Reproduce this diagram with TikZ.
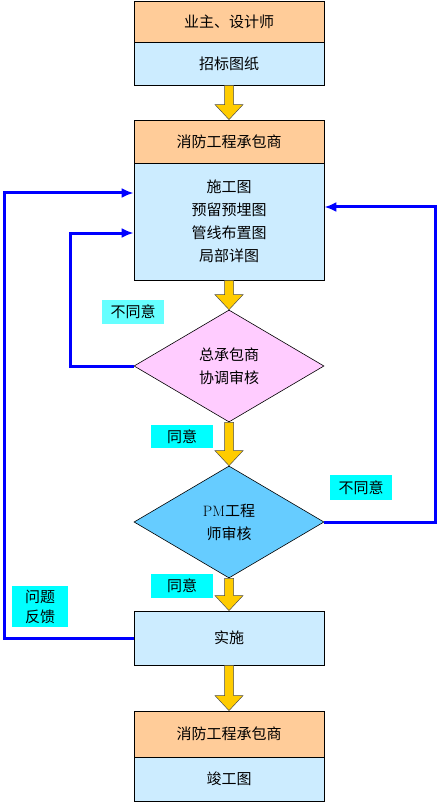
\documentclass[tikz,border=0pt]{standalone}
\usepackage{fontspec}
\newfontfamily\cjk{Noto Sans CJK SC}
\usetikzlibrary{shapes.geometric,calc,arrows.meta}
\definecolor{hdr}{HTML}{FFCC99}
\definecolor{bdy}{HTML}{CCECFF}
\definecolor{dpink}{HTML}{FFCCFF}
\definecolor{dblue}{HTML}{66CCFF}
\definecolor{lcyan}{HTML}{66FFFF}
\definecolor{cyanl}{HTML}{00FFFF}
\definecolor{yarr}{HTML}{FFCC00}
\definecolor{fblue}{HTML}{0000FF}
\tikzset{
  box/.style={draw=black, line width=0.8pt, minimum width=190pt, inner sep=0pt, align=center, font=\fontsize{15}{23}\selectfont\cjk},
  hbox/.style={box, fill=hdr},
  bbox/.style={box, fill=bdy},
  dia/.style={draw=black, line width=0.6pt, shape=diamond, minimum width=190pt, minimum height=112pt, inner sep=0pt, align=center, font=\fontsize{15}{23}\selectfont\cjk},
  lab/.style={inner sep=0pt, minimum width=62pt, align=center, font=\fontsize{15}{20}\selectfont\cjk},
  yblk/.style={fill=yarr, draw=black!70, line width=0.5pt},
  fb/.style={draw=fblue, line width=3pt, -{Latex[length=12pt,width=10pt]}}
}
\newcommand{\blockarrow}[2]{%
  \draw[yblk] ($(#1.south)+(-4.5,0)$) -- ($(#2.north)+(-4.5,-15)$) -- ($(#2.north)+(-14,-15)$) -- (#2.north) -- ($(#2.north)+(14,-15)$) -- ($(#2.north)+(4.5,-15)$) -- ($(#1.south)+(4.5,0)$) -- cycle;}
\begin{document}
\begin{tikzpicture}[x=1pt,y=-1pt]
\useasboundingbox (0,0) rectangle (437,802);
% box 1
\node[hbox, minimum height=41pt] (h1) at (229,21.5) {业主、设计师};
\node[bbox, minimum height=43pt] (b1) at (229,63.5) {招标图纸};
% box 2
\node[hbox, minimum height=43pt] (h2) at (229,141.5) {消防工程承包商};
\node[bbox, minimum height=117pt] (b2) at (229,221.5) {施工图\\预留预埋图\\管线布置图\\局部详图};
% diamonds
\node[dia, fill=dpink] (d1) at (229,366) {总承包商\\协调审核};
\node[dia, fill=dblue] (d2) at (229,522) {{\rmfamily PM}工程\\师审核};
% impl
\node[bbox, minimum height=54pt] (b3) at (229,638) {实施};
% last box
\node[hbox, minimum height=46pt] (h4) at (229,734) {消防工程承包商};
\node[bbox, minimum height=44pt] (b4) at (229,779) {竣工图};
% labels
\node[lab, fill=lcyan, minimum height=24pt] (l1) at (133,312) {不同意};
\node[lab, fill=cyanl, minimum height=23pt] (l2) at (182,436.5) {同意};
\node[lab, fill=cyanl, minimum height=25pt] (l3) at (361,487.5) {不同意};
\node[lab, fill=cyanl, minimum height=24pt] (l4) at (182,586) {同意};
\node[lab, fill=cyanl, minimum width=56pt, minimum height=41pt] (l5) at (40,606.5) {问题\\反馈};
% block arrows
\blockarrow{b1}{h2}
\blockarrow{b2}{d1}
\blockarrow{d1}{d2}
\blockarrow{d2}{b3}
\blockarrow{b3}{h4}
% feedback lines
\coordinate (o1) at (4,638);
\coordinate (o2) at (4,193);
\coordinate (i1) at (70,366);
\coordinate (i2) at (70,233);
\coordinate (r1) at (435,522);
\coordinate (r2) at (435,207);
\draw[fb] (b3.west) -- (o1) -- (o2) -- (b2.west |- o2);
\draw[fb] (d1.west) -- (i1) -- (i2) -- (b2.west |- i2);
\draw[fb] (d2.east) -- (r1) -- (r2) -- (b2.east |- r2);
\end{tikzpicture}
\end{document}
